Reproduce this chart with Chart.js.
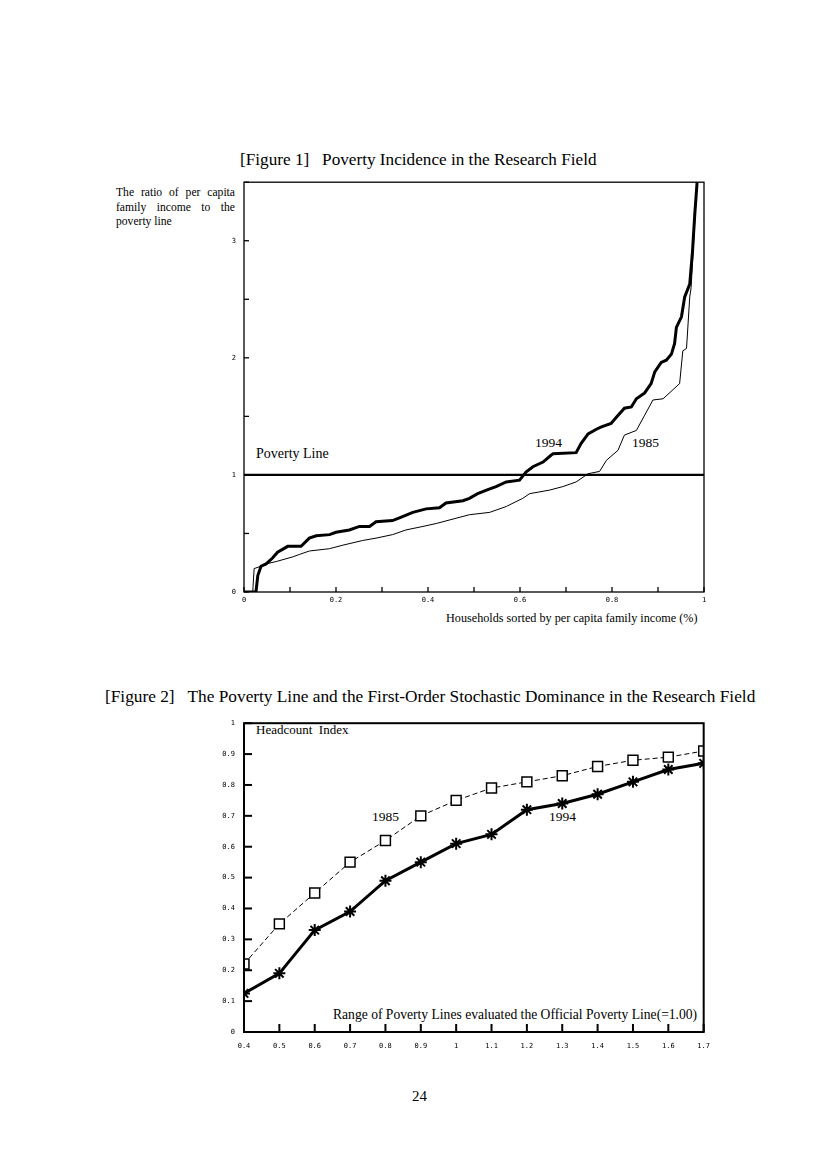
<!DOCTYPE html>
<html><head><meta charset="utf-8">
<script src="https://cdn.jsdelivr.net/npm/chart.js@4"></script>
<style>
body{margin:0;width:826px;height:1168px;background:#fff;position:relative;font-family:"Liberation Serif",serif;color:#000;overflow:hidden}
.t{position:absolute;white-space:nowrap;line-height:1}
.box{position:absolute}
</style></head><body>

<div class="t" style="left:240px;top:151px;font-size:17.2px;">[Figure 1]&nbsp;&nbsp;&nbsp;Poverty Incidence in the Research Field</div>
<div class="t" style="left:116px;top:186px;font-size:11.6px;width:119px;white-space:normal;line-height:14.5px;text-align:justify;">The ratio of per capita family income to the poverty line</div>
<div class="t" style="left:446px;top:612px;font-size:12.2px;">Households sorted by per capita family income (%)</div>
<div class="t" style="left:256px;top:447px;font-size:14px;">Poverty Line</div>
<div class="t" style="left:535px;top:436px;font-size:13.5px;">1994</div>
<div class="t" style="left:632px;top:436px;font-size:13.5px;">1985</div>

<div class="t" style="left:105px;top:688px;font-size:17.3px;">[Figure 2]&nbsp;&nbsp;&nbsp;The Poverty Line and the First-Order Stochastic Dominance in the Research Field</div>
<div class="t" style="left:256px;top:723px;font-size:13px;">Headcount&nbsp;&nbsp;Index</div>
<div class="t" style="left:372px;top:810px;font-size:13.5px;">1985</div>
<div class="t" style="left:549px;top:810px;font-size:13.5px;">1994</div>
<div class="t" style="left:333px;top:1008px;font-size:13.6px;">Range of Poverty Lines evaluated the Official Poverty Line(=1.00)</div>
<div class="t" style="left:412px;top:1089px;font-size:15px;">24</div>

<div class="box" style="left:200px;top:170px;width:520px;height:450px;"><canvas id="c1" width="520" height="450"></canvas></div>
<div class="box" style="left:200px;top:710px;width:520px;height:350px;"><canvas id="c2" width="520" height="350"></canvas></div>

<script>
// ---- Figure 1 data ----
const f1x1994 = [0,0.026,0.030,0.037,0.048,0.062,0.073,0.095,0.124,0.142,0.157,0.186,0.200,0.229,0.251,0.273,0.287,0.323,0.342,0.367,0.396,0.425,0.439,0.476,0.490,0.508,0.530,0.548,0.570,0.599,0.613,0.628,0.650,0.668,0.672,0.722,0.733,0.748,0.766,0.777,0.798,0.809,0.827,0.842,0.853,0.871,0.885,0.893,0.907,0.918,0.929,0.936,0.940,0.951,0.958,0.969,0.975,0.980,0.985];
const f1y1994 = [0,0,0.14,0.22,0.24,0.29,0.34,0.39,0.39,0.46,0.48,0.49,0.51,0.53,0.56,0.56,0.60,0.61,0.64,0.68,0.71,0.72,0.76,0.78,0.80,0.84,0.875,0.90,0.94,0.955,1.025,1.07,1.11,1.17,1.18,1.19,1.27,1.35,1.39,1.41,1.44,1.49,1.57,1.58,1.65,1.70,1.78,1.88,1.96,1.98,2.03,2.12,2.26,2.35,2.52,2.63,2.91,3.23,3.5];
const f1x1985 = [0,0.019,0.022,0.037,0.048,0.070,0.106,0.120,0.142,0.186,0.215,0.258,0.287,0.323,0.352,0.389,0.418,0.461,0.490,0.534,0.570,0.606,0.621,0.664,0.693,0.722,0.737,0.748,0.773,0.788,0.813,0.827,0.853,0.871,0.889,0.911,0.947,0.954,0.962,0.969,0.972,0.980,0.985];
const f1y1985 = [0,0,0.20,0.22,0.24,0.26,0.30,0.32,0.35,0.37,0.40,0.44,0.46,0.49,0.53,0.56,0.585,0.63,0.66,0.68,0.73,0.80,0.84,0.87,0.90,0.94,0.98,1.01,1.03,1.125,1.21,1.34,1.38,1.51,1.64,1.65,1.78,2.06,2.08,2.52,2.60,3.17,3.5];
const povertyLineX = [0,1];
const povertyLineY = [1,1];

// ---- Figure 2 data ----
const povertyLines = [0.4,0.5,0.6,0.7,0.8,0.9,1.0,1.1,1.2,1.3,1.4,1.5,1.6,1.7];
const headcount1985 = [0.22,0.35,0.45,0.55,0.62,0.70,0.75,0.79,0.81,0.83,0.86,0.88,0.89,0.91];
const headcount1994 = [0.125,0.19,0.33,0.39,0.49,0.55,0.61,0.64,0.72,0.74,0.77,0.81,0.85,0.87];

const pts = (xs, ys) => xs.map((x, i) => ({x, y: ys[i]}));

const frame = {
  id: 'frame',
  afterDatasetsDraw(chart, args, o) {
    const {ctx, chartArea: a, scales} = chart;
    ctx.save();
    ctx.strokeStyle = '#000';
    ctx.lineWidth = o.lw;
    ctx.strokeRect(a.left, a.top, a.right - a.left, a.bottom - a.top);
    ctx.lineWidth = o.tw;
    scales.x.ticks.forEach(t => {
      const p = scales.x.getPixelForValue(t.value);
      ctx.beginPath(); ctx.moveTo(p, a.bottom); ctx.lineTo(p, a.bottom - o.tl); ctx.stroke();
    });
    scales.y.ticks.forEach(t => {
      const p = scales.y.getPixelForValue(t.value);
      ctx.beginPath(); ctx.moveTo(a.left, p); ctx.lineTo(a.left + o.tl, p); ctx.stroke();
    });
    ctx.restore();
  }
};

const tickFont = {family: 'DejaVu Sans Mono', size: 7};
const noGrid = {display: false, drawTicks: false, tickLength: 0};

new Chart(document.getElementById('c1'), {
  type: 'line',
  data: {
    datasets: [
      {data: pts(povertyLineX, povertyLineY), borderColor: '#000', borderWidth: 2.2, pointRadius: 0},
      {data: pts(f1x1985, f1y1985), borderColor: '#000', borderWidth: 1, pointRadius: 0},
      {data: pts(f1x1994, f1y1994), borderColor: '#000', borderWidth: 3, pointRadius: 0}
    ]
  },
  options: {
    responsive: false, animation: false, events: [],
    layout: {padding: {top: 11, right: 16, left: 0, bottom: 0}},
    plugins: {legend: {display: false}, tooltip: {enabled: false}, frame: {lw: 1.3, tw: 1.3, tl: 5}},
    scales: {
      x: {type: 'linear', min: 0, max: 1,
          grid: noGrid, border: {display: false},
          ticks: {stepSize: 0.1, color: '#000', font: tickFont, padding: 4, maxRotation: 0, autoSkip: false,
                  callback: v => { const r = Math.round(v * 10); return r % 2 === 0 ? String(r / 10) : ''; }},
          afterFit: s => { s.height = 28; }},
      y: {type: 'linear', min: 0, max: 3.5,
          grid: noGrid, border: {display: false},
          ticks: {stepSize: 0.5, color: '#000', font: tickFont, padding: 8, autoSkip: false,
                  callback: v => Number.isInteger(v) ? String(v) : ''},
          afterFit: s => { s.width = 44; }}
    }
  },
  plugins: [frame]
});

new Chart(document.getElementById('c2'), {
  type: 'line',
  data: {
    datasets: [
      {data: pts(povertyLines, headcount1985), borderColor: '#000', borderWidth: 1, borderDash: [5, 3],
       pointStyle: 'rect', pointRadius: 7, pointBorderWidth: 1.5, pointBackgroundColor: '#fff', pointBorderColor: '#000'},
      {data: pts(povertyLines, headcount1994), borderColor: '#000', borderWidth: 3,
       pointStyle: 'star', pointRadius: 6, pointBorderWidth: 2, pointBackgroundColor: '#000', pointBorderColor: '#000'}
    ]
  },
  options: {
    responsive: false, animation: false, events: [],
    layout: {padding: {top: 11, right: 15, left: 0, bottom: 0}},
    plugins: {legend: {display: false}, tooltip: {enabled: false}, frame: {lw: 2, tw: 2, tl: 8}},
    scales: {
      x: {type: 'linear', min: 0.4, max: 1.7,
          grid: noGrid, border: {display: false},
          ticks: {stepSize: 0.1, color: '#000', font: tickFont, padding: 10, maxRotation: 0, autoSkip: false,
                  callback: v => String(Math.round(v * 10) / 10)},
          afterFit: s => { s.height = 28; }},
      y: {type: 'linear', min: 0, max: 1,
          grid: noGrid, border: {display: false},
          ticks: {stepSize: 0.1, color: '#000', font: tickFont, padding: 9, autoSkip: false,
                  callback: v => String(Math.round(v * 10) / 10)},
          afterFit: s => { s.width = 44; }}
    }
  },
  plugins: [frame]
});
</script>
</body></html>
